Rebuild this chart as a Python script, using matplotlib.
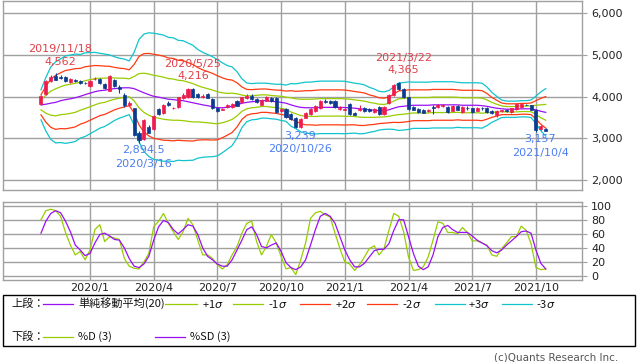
import numpy as np
import pandas as pd
import matplotlib
matplotlib.use('Agg')
import matplotlib.pyplot as plt
from matplotlib.lines import Line2D
from matplotlib.patches import Rectangle

# weekly bars, Monday of each week
weeks = pd.date_range('2019-10-28', periods=104, freq='W-MON')

opens = [3825, 4065, 4370, 4505, 4470, 4480, 4355, 4395, 4385, 4335,
         4265, 4415, 4425, 4305, 4145, 4400, 4230, 4050, 3810, 3720,
         3140, 2990, 3270, 3220, 3700, 3600, 3840, 3720, 3760, 3975,
         3990, 4180, 4060, 3990, 4060, 3945, 3740, 3690, 3760, 3745,
         3905, 3865, 3970, 4025, 3945, 3810, 3905, 3970, 3970, 3650,
         3700, 3590, 3500, 3280, 3500, 3580, 3660, 3720, 3905, 3905,
         3905, 3710, 3690, 3825, 3620, 3690, 3740, 3700, 3625, 3745,
         3590, 3850, 4030, 4320, 4185, 3985, 3760, 3700, 3680, 3655,
         3750, 3745, 3780, 3745, 3665, 3780, 3625, 3740, 3725, 3665,
         3735, 3740, 3660, 3550, 3660, 3680, 3625, 3705, 3745, 3810,
         3790, 3680, 3220, 3220]
highs = [4045, 4400, 4510, 4562, 4510, 4500, 4440, 4430, 4400, 4350,
         4390, 4470, 4440, 4320, 4510, 4420, 4270, 4100, 3900, 3740,
         3170, 3470, 3320, 3560, 3740, 3830, 3900, 3760, 4000, 4080,
         4216, 4200, 4100, 4060, 4080, 3970, 3760, 3730, 3830, 3850,
         3930, 4000, 4065, 4065, 3960, 3940, 4020, 3990, 3985, 3730,
         3720, 3610, 3520, 3480, 3640, 3720, 3800, 3920, 3940, 3920,
         3920, 3780, 3740, 3860, 3630, 3790, 3760, 3740, 3720, 3770,
         3780, 4060, 4300, 4365, 4200, 4000, 3780, 3720, 3700, 3700,
         3800, 3830, 3820, 3770, 3790, 3800, 3780, 3780, 3740, 3760,
         3760, 3760, 3680, 3680, 3690, 3700, 3740, 3840, 3860, 3830,
         3810, 3700, 3310, 3240]
lows = [3800, 4040, 4350, 4390, 4420, 4350, 4340, 4350, 4300, 4310,
        4240, 4390, 4300, 4190, 4130, 4240, 4100, 3750, 3770, 3050,
        2894.5, 2950, 3120, 3200, 3570, 3580, 3770, 3700, 3740, 3950,
        3970, 3980, 3970, 3960, 3960, 3700, 3640, 3670, 3740, 3720,
        3770, 3850, 3950, 3930, 3850, 3790, 3890, 3870, 3600, 3630,
        3490, 3450, 3239, 3260, 3480, 3560, 3640, 3700, 3860, 3830,
        3730, 3690, 3670, 3570, 3550, 3660, 3630, 3640, 3600, 3570,
        3570, 3830, 4010, 4150, 3970, 3690, 3670, 3620, 3600, 3640,
        3590, 3730, 3750, 3610, 3650, 3670, 3610, 3680, 3600, 3650,
        3690, 3620, 3580, 3520, 3640, 3640, 3610, 3690, 3720, 3790,
        3680, 3157, 3200, 3170]
closes = [4025, 4370, 4470, 4400, 4450, 4370, 4415, 4385, 4320, 4325,
          4370, 4430, 4320, 4210, 4490, 4265, 4190, 3790, 3860, 3080,
          2960, 3430, 3140, 3540, 3590, 3800, 3810, 3740, 3985, 4050,
          4180, 4000, 3990, 4010, 3980, 3720, 3660, 3710, 3790, 3825,
          3785, 3985, 4025, 3945, 3870, 3920, 3985, 3890, 3630, 3710,
          3510, 3470, 3270, 3460, 3620, 3700, 3780, 3900, 3885, 3850,
          3745, 3735, 3715, 3590, 3570, 3710, 3650, 3660, 3700, 3590,
          3760, 4040, 4270, 4190, 3990, 3710, 3690, 3640, 3620, 3680,
          3730, 3805, 3790, 3630, 3770, 3690, 3760, 3720, 3625, 3740,
          3720, 3640, 3600, 3660, 3670, 3665, 3720, 3820, 3835, 3800,
          3690, 3190, 3290, 3185]

# 20-week simple moving average and its standard deviation
sma20 = [3805, 3820, 3845, 3865, 3905, 3930, 3950, 3975, 4010, 4050,
         4085, 4120, 4145, 4155, 4180, 4195, 4205, 4215, 4215, 4195,
         4145, 4095, 4050, 4010, 3990, 3965, 3940, 3930, 3915, 3905,
         3880, 3855, 3830, 3805, 3785, 3760, 3735, 3735, 3745, 3770,
         3805, 3845, 3865, 3880, 3890, 3905, 3905, 3890, 3880, 3865,
         3845, 3805, 3770, 3745, 3735, 3735, 3735, 3745, 3745, 3745,
         3745, 3745, 3740, 3735, 3725, 3710, 3700, 3685, 3675, 3665,
         3665, 3685, 3725, 3760, 3770, 3785, 3795, 3795, 3795, 3795,
         3805, 3805, 3805, 3805, 3805, 3805, 3795, 3795, 3795, 3795,
         3785, 3770, 3745, 3725, 3710, 3700, 3700, 3700, 3710, 3710,
         3710, 3685, 3650, 3625]
sigma = [120, 215, 290, 325, 335, 350, 350, 350, 335, 335,
         325, 315, 300, 290, 275, 255, 240, 230, 215, 290,
         410, 470, 495, 505, 505, 505, 495, 495, 480, 480,
         470, 460, 435, 420, 410, 400, 385, 360, 335, 315,
         265, 195, 155, 145, 145, 140, 140, 140, 140, 145,
         145, 170, 180, 195, 205, 205, 210, 210, 210, 210,
         210, 210, 210, 205, 200, 200, 195, 180, 170, 155,
         150, 155, 170, 190, 190, 190, 185, 185, 185, 185,
         185, 185, 185, 185, 185, 180, 180, 180, 180, 180,
         180, 155, 120, 95, 70, 65, 65, 65, 65, 65,
         70, 110, 155, 190]

# slow stochastics
pct_d = [80, 93, 95, 93, 85, 62, 44, 30, 35, 23,
         37, 66, 73, 49, 56, 54, 52, 25, 14, 11,
         10, 20, 32, 70, 78, 89, 75, 63, 52, 63,
         82, 73, 51, 30, 30, 25, 16, 10, 16, 30,
         42, 61, 75, 78, 49, 30, 42, 59, 47, 28,
         10, 12, 2, 23, 47, 82, 90, 92, 87, 84,
         61, 39, 20, 17, 8, 16, 27, 39, 43, 30,
         39, 65, 89, 85, 63, 27, 8, 9, 13, 27,
         51, 77, 75, 62, 62, 60, 69, 62, 50, 50,
         47, 44, 30, 28, 39, 47, 56, 56, 71, 65,
         46, 12, 9, 10]
pct_sd = [61, 78, 89, 93, 90, 78, 63, 44, 37, 29,
          32, 47, 59, 61, 57, 52, 51, 40, 25, 14,
          12, 17, 28, 51, 70, 79, 76, 66, 60, 66,
          73, 71, 59, 40, 28, 23, 17, 14, 14, 23,
          37, 51, 66, 70, 59, 42, 40, 44, 47, 35,
          19, 12, 9, 13, 23, 44, 66, 85, 89, 85,
          75, 56, 37, 23, 13, 13, 18, 27, 36, 38,
          38, 46, 65, 80, 80, 56, 32, 14, 9, 13,
          30, 56, 69, 72, 66, 62, 62, 62, 57, 51,
          47, 43, 36, 33, 37, 44, 50, 56, 63, 64,
          61, 37, 18, 10]

peak_marks = [(3, '2019/11/18', '4,562'), (30, '2020/5/25', '4,216'), (73, '2021/3/22', '4,365')]
bottom_marks = [(20, '2020/3/16', '2,894.5'), (52, '2020/10/26', '3,239'), (101, '2021/10/4', '3,157')]

RED = '#ee1c4e'
BLUE = '#0c3a8f'
C_MID = '#9a10f5'
C_1 = '#99cc00'
C_2 = '#ff3a12'
C_3 = '#10c4cc'
GRID = '#a0a0a0'
JP = ['Noto Sans CJK JP', 'DejaVu Sans']

o = np.array(opens, float)
h = np.array(highs, float)
l = np.array(lows, float)
c = np.array(closes, float)
mid = np.array(sma20, float)
sd = np.array(sigma, float)
x = np.arange(len(c))

W, H = 638, 362
fig = plt.figure(figsize=(W / 100, H / 100), dpi=100)


def fx(px):
    return px / W


def fy(py):
    return 1 - py / H


ax = fig.add_axes([fx(3), fy(190), fx(582) - fx(3), fy(0.5) - fy(190)])
ax2 = fig.add_axes([fx(3), fy(280), fx(582) - fx(3), fy(202) - fy(280)])

# quarter starts for vertical grid / labels
ticks = [i for i in range(1, len(weeks))
         if weeks[i].month in (1, 4, 7, 10) and weeks[i].month != weeks[i - 1].month]
tick_labels = [f'{weeks[i].year}/{weeks[i].month}' for i in ticks]

for a in (ax, ax2):
    a.set_xlim(-7.75, 110.4)
    a.set_xticks(ticks)
    a.grid(True, color=GRID, lw=1.0)
    a.set_axisbelow(True)
    for s in a.spines.values():
        s.set_color(GRID)
        s.set_linewidth(1.0)
    a.yaxis.tick_right()
    a.tick_params(axis='y', direction='out', length=3.5, width=0.8, color=GRID,
                  pad=3, labelsize=8, labelcolor='#222222')

# price panel
ax.set_ylim(1760, 6311)
ax.set_yticks([2000, 3000, 4000, 5000, 6000])
ax.set_yticklabels([f'{v:,}' for v in [2000, 3000, 4000, 5000, 6000]])
ax.tick_params(axis='x', length=0, labelbottom=False)

for k, col in [(3, C_3), (2, C_2), (1, C_1)]:
    ax.plot(x, mid + k * sd, color=col, lw=0.9)
    ax.plot(x, mid - k * sd, color=col, lw=0.9)
ax.plot(x, mid, color=C_MID, lw=0.9)

cols = [RED if cc >= oo else BLUE for oo, cc in zip(o, c)]
ax.vlines(x, l, h, colors=cols, lw=0.8, zorder=3)
ax.bar(x, np.abs(c - o), bottom=np.minimum(o, c), width=0.62, color=cols,
       edgecolor=cols, linewidth=0.5, zorder=4)

for i, date, val in peak_marks:
    ax.annotate(val, (i, h[i]), xytext=(3.5, 8.5), textcoords='offset points',
                ha='center', va='center', fontsize=8, color='#e0404a')
    ax.annotate(date, (i, h[i]), xytext=(3.5, 17.3), textcoords='offset points',
                ha='center', va='center', fontsize=8, color='#e0404a')
for i, date, val in bottom_marks:
    ax.annotate(val, (i, l[i]), xytext=(3.0, -5.5), textcoords='offset points',
                ha='center', va='center', fontsize=8, color='#4a7ef2')
    ax.annotate(date, (i, l[i]), xytext=(3.0, -15.0), textcoords='offset points',
                ha='center', va='center', fontsize=8, color='#4a7ef2')

# stochastics panel
ax2.set_ylim(-5.7, 105.3)
ax2.set_yticks([0, 20, 40, 60, 80, 100])
ax2.plot(x, pct_d, color=C_1, lw=0.9)
ax2.plot(x, pct_sd, color=C_MID, lw=0.9)
ax2.set_xticklabels(tick_labels)
ax2.tick_params(axis='x', length=0, pad=2.5, labelsize=8, labelcolor='#222222')

# legend box
fig.patches.append(Rectangle((fx(3), fy(346)), fx(635) - fx(3), fy(295) - fy(346),
                             transform=fig.transFigure, fill=False, ec='black', lw=1.0))


def leg_line(x0, x1, py, col):
    fig.lines.append(Line2D([fx(x0), fx(x1)], [fy(py), fy(py)], color=col, lw=0.9,
                            transform=fig.transFigure))


def leg_text(px, py, s):
    fig.text(fx(px), fy(py), s, ha='left', va='center', fontsize=8, family=JP, color='#111111')


r1, r2 = 303.5, 336.5
leg_text(11, r1, '上段：')
leg_line(43, 73, r1, C_MID)
leg_text(78, r1, '単純移動平均(20)')
leg_line(165, 197, r1, C_1)
leg_text(202, r1, '+1$\\sigma$')
leg_line(233, 263, r1, C_1)
leg_text(268, r1, '-1$\\sigma$')
leg_line(300, 330, r1, C_2)
leg_text(335, r1, '+2$\\sigma$')
leg_line(367, 397, r1, C_2)
leg_text(402, r1, '-2$\\sigma$')
leg_line(435, 465, r1, C_3)
leg_text(468, r1, '+3$\\sigma$')
leg_line(502, 532, r1, C_3)
leg_text(536, r1, '-3$\\sigma$')

leg_text(11, r2, '下段：')
leg_line(43, 73, r2, C_1)
leg_text(78, r2, '%D (3)')
leg_line(155, 185, r2, C_MID)
leg_text(190, r2, '%SD (3)')

fig.text(fx(618), fy(357), '(c)Quants Research Inc.', ha='right', va='center',
         fontsize=7.5, color='#555555')

fig.savefig('out.png', dpi=100)
